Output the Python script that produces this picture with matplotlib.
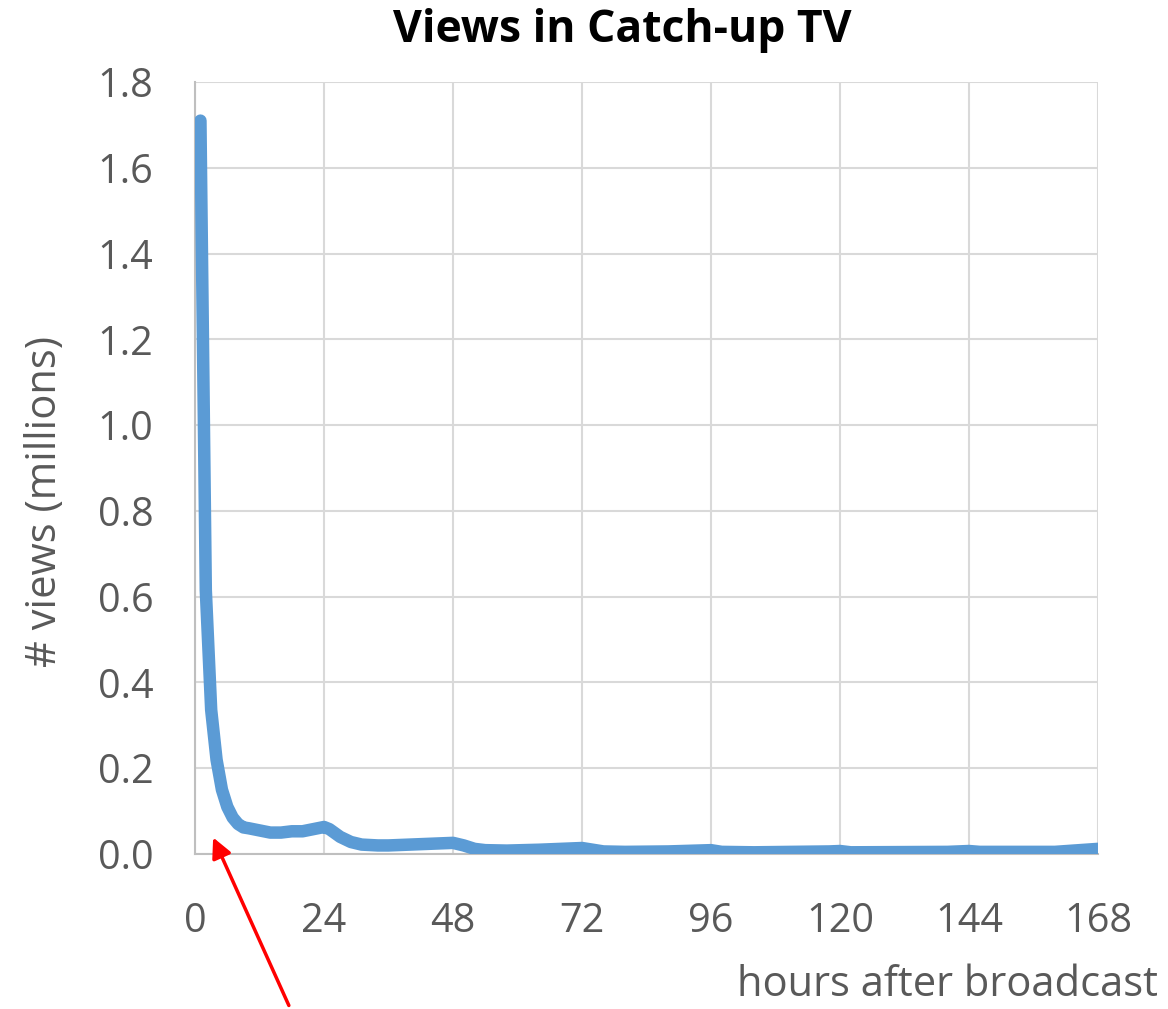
import matplotlib.pyplot as plt

hours = [1, 2, 3, 4, 5, 6, 7, 8, 9, 10, 12, 14, 16, 18, 20, 22, 24, 25, 27, 29, 31,
         34, 36, 40, 44, 48, 50, 52, 54, 58, 64, 70, 72, 74, 76, 80, 88, 96, 98,
         104, 118, 120, 122, 140, 144, 146, 160, 168]
views = [1.71, 0.615, 0.336, 0.22, 0.15, 0.11, 0.085, 0.07, 0.062, 0.06, 0.055, 0.05,
         0.05, 0.053, 0.053, 0.058, 0.063, 0.058, 0.04, 0.028, 0.022, 0.02, 0.02, 0.022,
         0.024, 0.026, 0.02, 0.012, 0.009, 0.008, 0.01, 0.013, 0.014, 0.01, 0.006, 0.005,
         0.006, 0.009, 0.005, 0.004, 0.006, 0.007, 0.004, 0.005, 0.007, 0.005, 0.005, 0.012]

xticks = [0, 24, 48, 72, 96, 120, 144, 168]
yticks = [0.0, 0.2, 0.4, 0.6, 0.8, 1.0, 1.2, 1.4, 1.6, 1.8]

plt.rcParams['font.family'] = ['Open Sans', 'DejaVu Sans']

fig = plt.figure(figsize=(11.68, 10.09), dpi=100)
ax = fig.add_axes([0.167, 0.1536, 0.773, 0.7651])

ax.plot(hours, views, color='#5B9BD5', linewidth=9, solid_capstyle='round',
        solid_joinstyle='round', zorder=3)

ax.set_xlim(0, 168)
ax.set_ylim(0, 1.8)
ax.set_xticks(xticks)
ax.set_yticks(yticks)
ax.set_yticklabels([f'{v:.1f}' for v in yticks])
ax.grid(True, color='#D9D9D9', linewidth=1.5)
ax.set_axisbelow(True)
for s in ['top', 'right']:
    ax.spines[s].set_visible(False)
for s in ['left', 'bottom']:
    ax.spines[s].set_color('#BFBFBF')
    ax.spines[s].set_linewidth(1.5)
ax.tick_params(length=0, labelsize=28.5, colors='#595959')
ax.tick_params(axis='y', pad=30)
ax.tick_params(axis='x', pad=34)

# axis titles placed the way the reference has them
fig.text(45 / 1168, 0.5025, '# views (millions)', fontsize=30, color='#595959',
         rotation=90, ha='center', va='center')
fig.text(1158 / 1168, 0.024, 'hours after broadcast', fontsize=30, color='#595959',
         ha='right', va='center')
fig.text(0.533, 0.970, 'Views in Catch-up TV', fontsize=32, fontweight='bold',
         ha='center', va='center')

ax.annotate('', xy=(212 / 1168, 1 - 835 / 1009), xycoords='figure fraction',
            xytext=(290 / 1168, 1 - 1008 / 1009), textcoords='figure fraction',
            arrowprops=dict(arrowstyle='-|>', color='red', lw=2.5, mutation_scale=30),
            annotation_clip=False)

fig.savefig('out.png', dpi=100)
